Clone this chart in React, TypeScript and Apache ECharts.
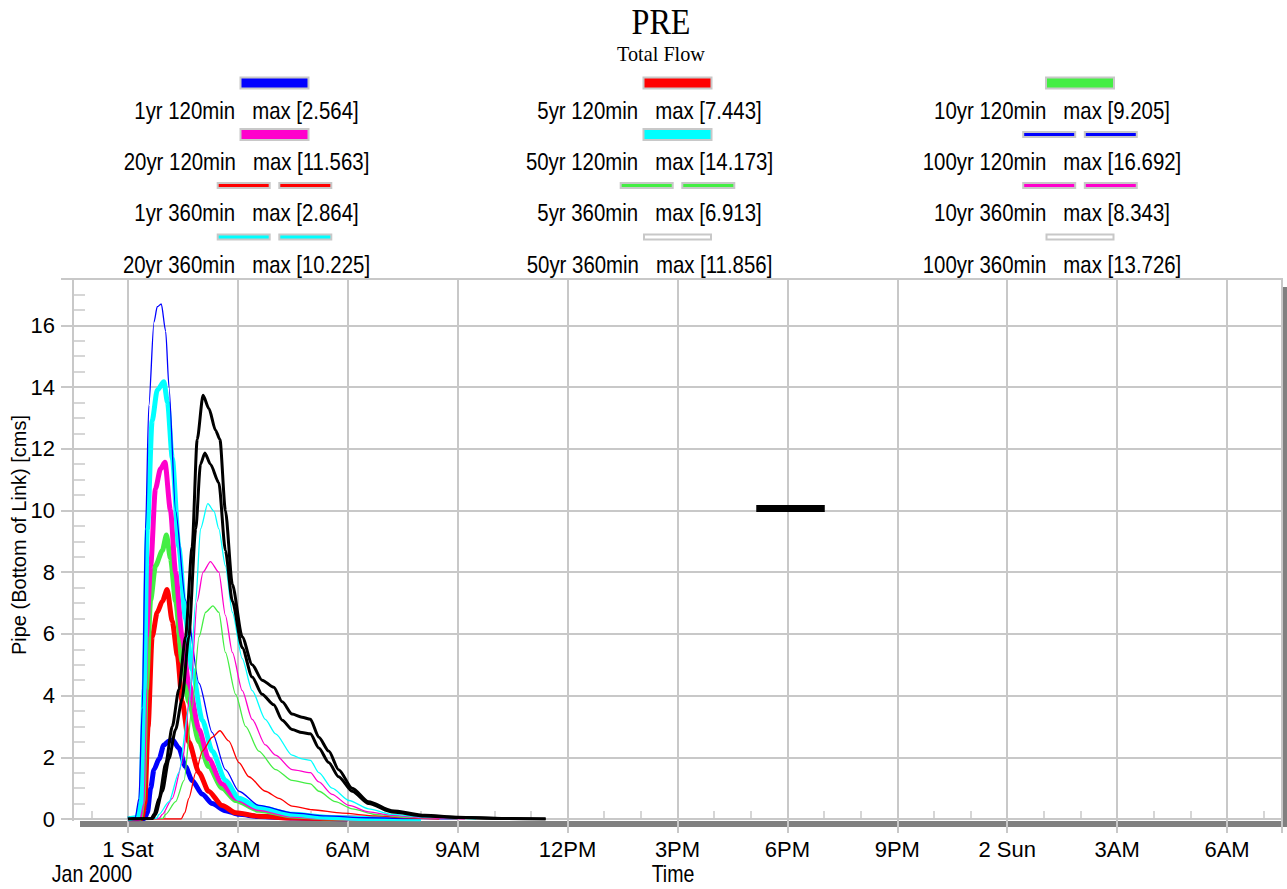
import React, { useEffect, useRef } from "react";
import * as echarts from "echarts";

// ---------- data ----------
const xTickHours = [0, 3, 6, 9, 12, 15, 18, 21, 24, 27, 30];
const xTickLabels = ["1 Sat", "3AM", "6AM", "9AM", "12PM", "3PM", "6PM", "9PM", "2 Sun", "3AM", "6AM"];

const seriesNames = [
  "1yr 120min", "5yr 120min", "10yr 120min",
  "20yr 120min", "50yr 120min", "100yr 120min",
  "1yr 360min", "5yr 360min", "10yr 360min",
  "20yr 360min", "50yr 360min", "100yr 360min",
];
const seriesMax = [2.564, 7.443, 9.205, 11.563, 14.173, 16.692, 2.864, 6.913, 8.343, 10.225, 11.856, 13.726];

// [hours since 1 Jan 2000 00:00, flow cms]
const yr1_120 = [[0,0],[0.45,0.02],[0.53,0.2],[0.62,1.0],[0.71,1.6],[0.85,1.95],[0.98,2.4],[1.12,2.53],[1.22,2.56],[1.39,2.3],[1.57,1.7],[1.75,1.25],[2.03,0.8],[2.3,0.5],[2.66,0.27],[3.03,0.15],[3.57,0.08],[4.5,0.03],[6,0]];
const yr5_120 = [[0,0],[0.38,0.02],[0.46,0.5],[0.55,3.0],[0.66,5.9],[0.8,6.7],[0.94,7.06],[1.07,7.44],[1.21,6.4],[1.35,5.3],[1.48,3.8],[1.66,2.5],[1.94,1.5],[2.2,0.9],[2.57,0.44],[2.94,0.2],[3.57,0.09],[4.5,0.03],[6,0]];
const yr10_120 = [[0,0],[0.33,0.02],[0.41,0.6],[0.5,4.2],[0.62,7.1],[0.75,8.2],[0.94,8.7],[1.05,9.2],[1.16,8.45],[1.3,7.06],[1.48,5.1],[1.66,3.8],[1.94,2.5],[2.2,1.7],[2.57,1.0],[2.94,0.6],[3.57,0.28],[4.5,0.1],[5.4,0.04],[7,0]];
const yr20_120 = [[0,0],[0.3,0.02],[0.38,0.5],[0.5,5.9],[0.62,8.2],[0.75,10.7],[0.89,11.35],[1.01,11.56],[1.16,10.0],[1.3,8.0],[1.48,5.9],[1.66,4.4],[1.94,2.9],[2.2,1.95],[2.57,1.14],[2.94,0.67],[3.57,0.33],[4.5,0.12],[5.4,0.05],[7,0]];
const yr50_120 = [[0,0],[0.25,0.05],[0.35,0.5],[0.44,4.2],[0.53,9.4],[0.66,12.9],[0.8,13.9],[0.98,14.17],[1.08,13.5],[1.21,11.7],[1.39,8.8],[1.57,6.5],[1.75,4.85],[2.03,3.2],[2.3,2.2],[2.66,1.25],[3.03,0.67],[3.57,0.38],[4.5,0.15],[5.4,0.06],[6.3,0.02],[8,0]];
const yr100_120 = [[0,0],[0.2,0.05],[0.3,0.67],[0.39,3.6],[0.48,9.4],[0.57,13.4],[0.71,16.1],[0.8,16.6],[0.91,16.69],[1.03,15.8],[1.12,14.0],[1.3,10.0],[1.57,7.1],[1.94,4.4],[2.3,2.8],[2.66,1.6],[3.03,0.9],[3.57,0.44],[4.5,0.2],[5.4,0.1],[6.5,0.04],[8,0.01],[9,0]];
const yr1_360 = [[0,0],[1.45,0],[1.55,0.2],[1.66,0.67],[1.85,1.5],[2.03,2.2],[2.3,2.65],[2.51,2.86],[2.75,2.53],[3.03,1.83],[3.3,1.37],[3.75,0.9],[4.12,0.67],[4.48,0.42],[5.03,0.3],[5.85,0.19],[6.75,0.1],[7.6,0.04],[8.5,0]];
const yr5_360 = [[0,0],[0.95,0.02],[1.03,0.15],[1.3,0.56],[1.53,1.25],[1.75,3.6],[1.94,5.9],[2.12,6.7],[2.32,6.91],[2.48,6.7],[2.66,5.4],[2.94,4.04],[3.21,3.0],[3.57,2.2],[4.03,1.6],[4.48,1.25],[4.98,1.14],[5.21,0.9],[5.66,0.56],[6.12,0.33],[6.75,0.15],[7.6,0.05],[9,0]];
const yr10_360 = [[0,0],[0.85,0.02],[0.94,0.15],[1.21,0.67],[1.48,1.8],[1.71,4.2],[1.89,7.06],[2.05,8.0],[2.25,8.34],[2.48,8.0],[2.66,6.6],[2.85,5.4],[3.12,4.16],[3.39,3.23],[3.75,2.4],[4.03,2.07],[4.48,1.6],[4.98,1.5],[5.21,1.2],[5.57,0.8],[6.03,0.44],[6.57,0.23],[7.2,0.12],[8.1,0.04],[9.2,0]];
const yr20_360 = [[0,0],[0.78,0.02],[0.85,0.15],[1.12,0.56],[1.39,1.5],[1.66,3.6],[1.85,7.06],[1.98,9.4],[2.18,10.22],[2.35,9.97],[2.48,9.4],[2.66,8.2],[2.85,6.7],[3.12,5.2],[3.39,4.16],[3.75,3.23],[4.03,2.76],[4.48,2.07],[4.75,1.95],[4.98,1.9],[5.21,1.5],[5.57,1.0],[6.03,0.6],[6.57,0.33],[7.2,0.15],[8.1,0.06],[9.5,0]];
const yr50_360 = [[0,0],[0.68,0.02],[0.75,0.15],[0.94,0.9],[1.12,1.95],[1.3,2.9],[1.48,3.9],[1.66,5.9],[1.85,9.4],[1.98,11.5],[2.1,11.86],[2.25,11.5],[2.48,10.9],[2.66,8.7],[2.85,7.06],[3.12,5.55],[3.39,4.6],[3.66,4.04],[3.98,3.7],[4.21,3.2],[4.48,2.9],[4.75,2.8],[4.98,2.76],[5.21,2.3],[5.48,1.83],[5.75,1.37],[6.12,0.9],[6.57,0.5],[7.2,0.23],[8.1,0.1],[9,0.05],[10.2,0.02],[11.4,0]];
const yr100_360 = [[0,0],[0.64,0.02],[0.71,0.15],[0.85,0.67],[1.03,1.8],[1.21,3.0],[1.39,4.2],[1.57,5.9],[1.75,8.8],[1.89,12.3],[2.05,13.73],[2.21,13.3],[2.39,12.6],[2.51,12.3],[2.66,10.0],[2.85,7.6],[3.12,5.9],[3.39,5.0],[3.66,4.5],[3.98,4.27],[4.21,3.8],[4.48,3.4],[4.75,3.3],[4.98,3.23],[5.21,2.65],[5.48,2.2],[5.75,1.6],[6.12,1.0],[6.57,0.56],[7.2,0.27],[8.1,0.12],[9,0.06],[10.2,0.02],[11.4,0]];
const blackMark = [[17.15, 10.06], [19.02, 10.06]];

const seriesData = [yr1_120, yr5_120, yr10_120, yr20_120, yr50_120, yr100_120, yr1_360, yr5_360, yr10_360, yr20_360, yr50_360, yr100_360];

// ---------- styles ----------
const seriesColors = ["#0000ff", "#ff0000", "#44ee44", "#ff00cc", "#00ffff", "#0000ff", "#ff0000", "#44ee44", "#ff00cc", "#00ffff", "#000000", "#000000"];
const seriesWidths = [5, 5, 5, 5, 5, 1.3, 1.3, 1.3, 1.3, 1.3, 3, 3];
const legendSwatch = ["solid", "solid", "solid", "solid", "solid", "dashed", "dashed", "dashed", "dashed", "dashed", "empty", "empty"];

const SANS = "'Liberation Sans', Arial, sans-serif";
const SERIF = "'Liberation Serif', 'Times New Roman', serif";
const GRID = "#c8c8c8";
const NARROW_SCALE = 0.85;

function buildLegend() {
  const els: any[] = [];
  const colCx = [274.5, 677.5, 1080];
  const swatchY = [83, 134.5, 185.6, 237];
  const textY = [111, 162, 213, 265];
  seriesNames.forEach((name, i) => {
    const col = i % 3;
    const row = Math.floor(i / 3);
    const cx = colCx[col];
    const cy = swatchY[row];
    const kind = legendSwatch[i];
    if (kind === "solid") {
      els.push({ type: "rect", shape: { x: cx - 34, y: cy - 5.5, width: 68, height: 11 }, style: { fill: seriesColors[i], stroke: GRID, lineWidth: 2 } });
    } else if (kind === "dashed") {
      [-30.8, 30.8].forEach((dx) => {
        els.push({ type: "rect", shape: { x: cx + dx - 26, y: cy - 2.5, width: 52, height: 5 }, style: { fill: seriesColors[i], stroke: GRID, lineWidth: 2 } });
      });
    } else {
      els.push({ type: "rect", shape: { x: cx - 33.5, y: cy - 2.5, width: 67, height: 5 }, style: { fill: "#ffffff", stroke: GRID, lineWidth: 2 } });
    }
    els.push({
      type: "text",
      x: cx - 28,
      y: textY[row],
      scaleX: NARROW_SCALE,
      style: {
        text: `${name}   max [${seriesMax[i].toFixed(3)}]`,
        fontFamily: SANS,
        fontSize: 24,
        fill: "#000",
        align: "center",
        verticalAlign: "middle",
      },
    });
  });
  return els;
}

export default function App() {
  const ref = useRef<HTMLDivElement>(null);
  useEffect(() => {
    if (!ref.current) return;
    const chart = echarts.init(ref.current, null, { renderer: "svg" });
    const lineSeries: any[] = seriesData.map((d, i) => ({
      name: seriesNames[i],
      type: "line",
      data: d,
      xAxisIndex: 0,
      yAxisIndex: 0,
      showSymbol: false,
      smooth: 0.25,
      smoothMonotone: "x",
      lineStyle: { color: seriesColors[i], width: seriesWidths[i] },
      itemStyle: { color: seriesColors[i] },
      z: 3 + i * 0.01,
    }));
    lineSeries.push({
      type: "line",
      data: blackMark,
      showSymbol: false,
      lineStyle: { color: "#000", width: 7, cap: "butt" },
      z: 4,
    });

    const labelFor = (v: number) => {
      const idx = xTickHours.indexOf(Math.round(v * 1000) / 1000);
      return idx >= 0 ? xTickLabels[idx] : "";
    };

    chart.setOption({
      animation: false,
      backgroundColor: "#ffffff",
      grid: {
        left: 73,
        right: 5,
        top: 279,
        bottom: 70,
        show: true,
        borderColor: GRID,
        borderWidth: 2,
        backgroundColor: "#ffffff",
      },
      xAxis: [
        {
          type: "value",
          min: -1.5,
          max: 31.5,
          splitNumber: 11,
          minInterval: 3,
          maxInterval: 3,
          axisLine: { show: true, onZero: false, lineStyle: { color: GRID, width: 2 } },
          axisTick: { show: true, length: 14, lineStyle: { color: GRID, width: 2 } },
          axisLabel: { formatter: labelFor, margin: 19, fontSize: 22, fontFamily: SANS, color: "#000" },
          splitLine: { show: true, lineStyle: { color: GRID, width: 2 } },
        },
        {
          type: "value",
          position: "bottom",
          min: -1.5,
          max: 31.5,
          splitNumber: 33,
          minInterval: 1,
          maxInterval: 1,
          axisLine: { show: false, onZero: false },
          axisTick: { show: true, inside: true, length: 8, lineStyle: { color: GRID, width: 1.5 } },
          axisLabel: { show: false },
          splitLine: { show: false },
        },
      ],
      yAxis: [
        {
          type: "value",
          min: 0,
          max: 17.5,
          interval: 2,
          axisLine: { show: true, onZero: false, lineStyle: { color: GRID, width: 2 } },
          axisTick: { show: true, length: 12, lineStyle: { color: GRID, width: 2 } },
          axisLabel: {
            formatter: (v: number) => (v % 2 === 0 ? String(v) : ""),
            margin: 18,
            fontSize: 22,
            fontFamily: SANS,
            color: "#000",
          },
          splitLine: { show: true, lineStyle: { color: GRID, width: 2 } },
        },
        {
          type: "value",
          position: "left",
          min: 0,
          max: 17.5,
          interval: 0.5,
          axisLine: { show: false, onZero: false },
          axisTick: { show: true, inside: true, length: 12, lineStyle: { color: GRID, width: 1.5 } },
          axisLabel: { show: false },
          splitLine: { show: false },
        },
      ],
      graphic: [
        { type: "rect", z: -1, shape: { x: 80, y: 821, width: 1207, height: 6 }, style: { fill: "#808080" } },
        { type: "rect", z: -1, shape: { x: 1283, y: 287, width: 4, height: 540 }, style: { fill: "#808080" } },
        { type: "rect", z: 100, shape: { x: 69, y: 821, width: 10, height: 15 }, style: { fill: "#ffffff" } },
        { type: "text", x: 661, y: 22, scaleX: 0.92, style: { text: "PRE", fontFamily: SERIF, fontSize: 35, fill: "#000", align: "center", verticalAlign: "middle" } },
        { type: "text", x: 661, y: 54, scaleX: 0.92, style: { text: "Total Flow", fontFamily: SERIF, fontSize: 22, fill: "#000", align: "center", verticalAlign: "middle" } },
        { type: "text", x: 92, y: 874, scaleX: NARROW_SCALE, style: { text: "Jan 2000", fontFamily: SANS, fontSize: 23, fill: "#000", align: "center", verticalAlign: "middle" } },
        { type: "text", x: 673, y: 874, scaleX: NARROW_SCALE, style: { text: "Time", fontFamily: SANS, fontSize: 23, fill: "#000", align: "center", verticalAlign: "middle" } },
        { type: "text", x: 19, y: 535, rotation: Math.PI / 2, style: { text: "Pipe (Bottom of Link) [cms]", fontFamily: SANS, fontSize: 20, fill: "#000", align: "center", verticalAlign: "middle" } },
        ...buildLegend(),
      ],
      series: lineSeries,
    });
    return () => chart.dispose();
  }, []);
  return <div ref={ref} style={{ width: 1287, height: 889, position: "absolute", left: 0, top: 0 }} />;
}
